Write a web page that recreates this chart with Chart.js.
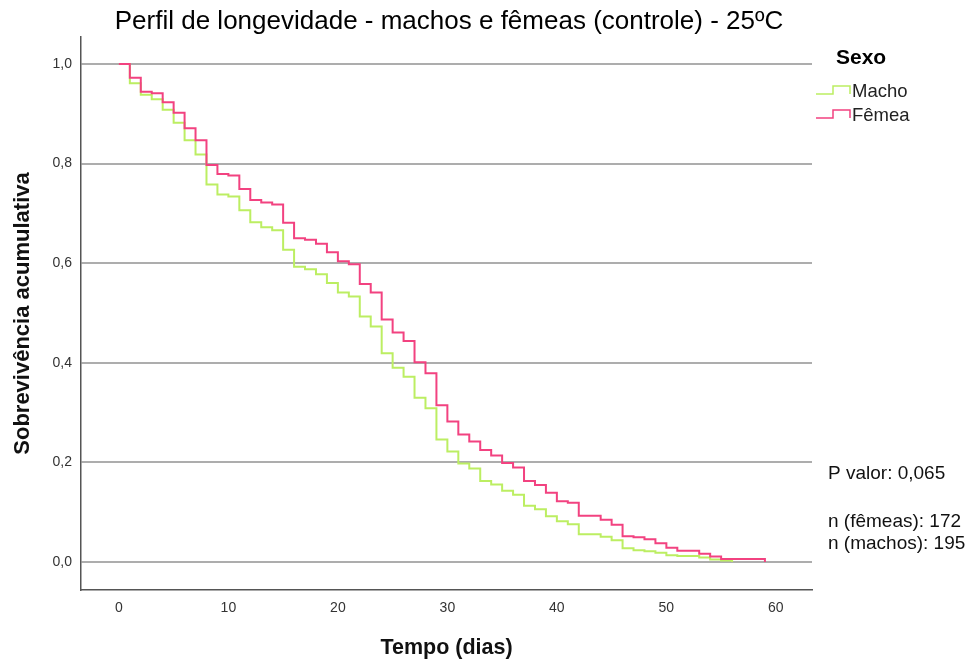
<!DOCTYPE html>
<html>
<head>
<meta charset="utf-8">
<script src="https://cdn.jsdelivr.net/npm/chart.js@4"></script>
<style>
  body { margin: 0; background: #fff; }
</style>
</head>
<body>
<canvas id="chart" width="979" height="661"></canvas>
<script>
// tempo em dias e sobrevivencia acumulada (Kaplan-Meier)
const daysMacho = [0,1,2,3,4,5,6,7,8,9,10,11,12,13,14,15,16,17,18,19,20,21,22,23,24,25,26,27,28,29,30,31,32,33,34,35,36,37,38,39,40,41,42,43,44,45,46,47,48,49,50,51,52,53,54,55,56];
const macho = [1.0,0.961,0.938,0.929,0.908,0.882,0.847,0.818,0.758,0.738,0.734,0.706,0.682,0.672,0.666,0.627,0.593,0.588,0.578,0.560,0.541,0.533,0.493,0.473,0.419,0.390,0.372,0.330,0.309,0.246,0.222,0.198,0.188,0.163,0.156,0.143,0.135,0.113,0.106,0.092,0.082,0.076,0.056,0.056,0.051,0.044,0.028,0.024,0.022,0.019,0.014,0.012,0.012,0.009,0.005,0.003,0.0];

const daysFemea = [0,1,2,3,4,5,6,7,8,9,10,11,12,13,14,15,16,17,18,19,20,21,22,23,24,25,26,27,28,29,30,31,32,33,34,35,36,37,38,39,40,41,42,43,44,45,46,47,48,49,50,51,52,53,54,55,56,57,58,59];
const femea = [1.0,0.972,0.944,0.941,0.923,0.902,0.871,0.847,0.797,0.779,0.776,0.749,0.727,0.722,0.718,0.681,0.650,0.647,0.639,0.622,0.604,0.598,0.558,0.541,0.487,0.461,0.444,0.401,0.379,0.315,0.282,0.256,0.242,0.225,0.214,0.199,0.190,0.163,0.155,0.139,0.122,0.119,0.093,0.093,0.085,0.075,0.052,0.050,0.046,0.038,0.029,0.023,0.023,0.017,0.011,0.006,0.006,0.006,0.006,0.0];

const xTicks = [0,10,20,30,40,50,60];
const yTicks = [0,0.2,0.4,0.6,0.8,1.0];

const verde = '#bcee62';
const rosa = '#f24280';
const fonte = '"Liberation Sans", Arial, sans-serif';

// legenda, titulo e textos laterais
const extras = {
  id: 'extras',
  afterDraw(chart) {
    const c = chart.ctx;
    c.save();
    c.fillStyle = '#000';
    c.textBaseline = 'middle';
    c.textAlign = 'center';
    c.font = '26px ' + fonte;
    c.fillText('Perfil de longevidade - machos e fêmeas (controle) - 25ºC', 449, 22);

    c.textAlign = 'left';
    c.font = 'bold 21px ' + fonte;
    c.fillText('Sexo', 836, 58);

    const itens = [['Macho', verde, 92], ['Fêmea', rosa, 116]];
    c.font = '18.5px ' + fonte;
    c.lineWidth = 1.5;
    itens.forEach(([txt, cor, y]) => {
      c.strokeStyle = cor;
      c.beginPath();
      c.moveTo(816, y + 2);
      c.lineTo(833, y + 2);
      c.lineTo(833, y - 6);
      c.lineTo(850, y - 6);
      c.lineTo(850, y + 2);
      c.stroke();
      c.fillStyle = '#222';
      c.fillText(txt, 852, y);
    });

    c.fillStyle = '#111';
    c.font = '19px ' + fonte;
    c.fillText('P valor: 0,065', 828, 474);
    c.fillText('n (fêmeas): 172', 828, 522);
    c.fillText('n (machos): 195', 828, 544);
    c.restore();
  }
};

const ctx = document.querySelector('#chart').getContext('2d');
const chart = new Chart(ctx, {
  type: 'line',
  data: {
    datasets: [{
      label: 'Macho',
      data: daysMacho.map((d, i) => ({x: d, y: macho[i]})),
      borderColor: verde,
      borderWidth: 2,
      pointRadius: 0,
      stepped: true,
      order: 1
    }, {
      label: 'Fêmea',
      data: daysFemea.map((d, i) => ({x: d, y: femea[i]})),
      borderColor: rosa,
      borderWidth: 2,
      pointRadius: 0,
      stepped: true,
      order: 0
    }]
  },
  options: {
    responsive: false,
    animation: false,
    layout: { padding: { top: 37, right: 167, left: 0, bottom: 0 } },
    plugins: {
      legend: { display: false },
      tooltip: { enabled: false },
      title: { display: false }
    },
    scales: {
      x: {
        type: 'linear',
        min: -3.46,
        max: 63.3,
        afterBuildTicks: s => { s.ticks = xTicks.map(v => ({value: v})); },
        afterFit: s => { s.height = 71; },
        grid: { display: false, drawTicks: false },
        border: { color: '#555', width: 1.5 },
        ticks: {
          padding: 10,
          color: '#333',
          font: { family: fonte, size: 14 }
        },
        title: {
          display: true,
          text: 'Tempo (dias)',
          color: '#111',
          font: { family: fonte, size: 21.5, weight: 'bold' },
          padding: { top: 0, bottom: 0 }
        }
      },
      y: {
        min: -0.056,
        max: 1.054,
        afterBuildTicks: s => { s.ticks = yTicks.map(v => ({value: v})); },
        afterFit: s => { s.width = 81; },
        grid: { color: '#adadad', lineWidth: 2, drawTicks: false },
        border: { color: '#555', width: 1.5 },
        ticks: {
          padding: 9,
          color: '#333',
          font: { family: fonte, size: 14 },
          callback: v => v.toFixed(1).replace('.', ',')
        },
        title: {
          display: true,
          text: 'Sobrevivência acumulativa',
          color: '#111',
          font: { family: fonte, size: 22, weight: 'bold' },
          padding: { top: 10, bottom: 0 }
        }
      }
    }
  },
  plugins: [extras]
});
</script>
</body>
</html>
